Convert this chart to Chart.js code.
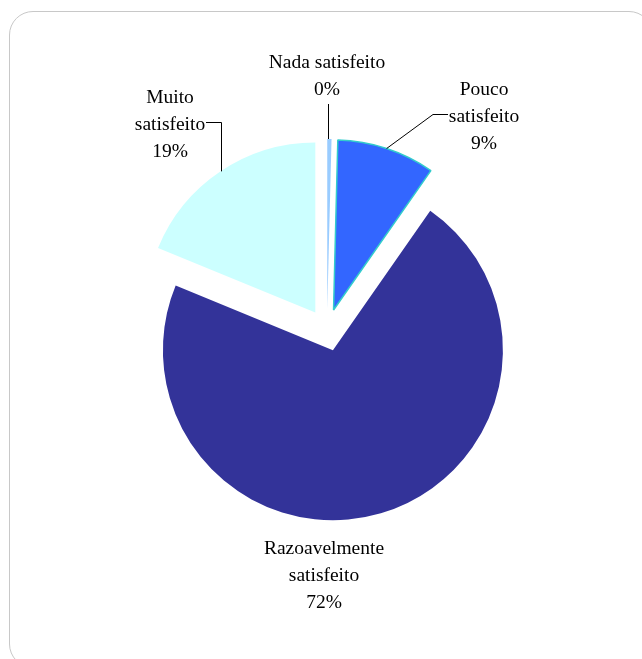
<!DOCTYPE html>
<html lang="pt">
<head>
<meta charset="UTF-8">
<title>Satisfação</title>
<style>
  body { margin: 0; background: #fff; overflow: hidden; }
  .frame { position: absolute; left: 9px; top: 11px; width: 642px; height: 655px;
           border: 1px solid #c8c8c8; border-radius: 24px; }
  canvas { position: absolute; left: 0; top: 0; }
</style>
</head>
<body>
<div class="frame"></div>
<canvas id="chart" width="642" height="659"></canvas>

<script src="https://cdn.jsdelivr.net/npm/chart.js"></script>
<script>
// dados
const categories = ['Nada satisfeito', 'Pouco satisfeito', 'Razoavelmente satisfeito', 'Muito satisfeito'];
const values = [0.4, 9.3, 71.5, 18.8];
const labelLines = [['Nada satisfeito'], ['Pouco', 'satisfeito'], ['Razoavelmente', 'satisfeito'], ['Muito', 'satisfeito']];
const colors = ['#99CCFF', '#3366FF', '#333399', '#CCFFFF'];

// layout
const EXPLODE = 21;
const FONT = '19.5px "Liberation Serif"';
const LINE_H = 27;
// centre x / first line y of each label
const labelAt = [[327, 63], [484, 90], [324, 549], [170, 98]];

// slices pushed out by a fixed distance, radius unchanged
const ArcEl = Chart.registry.getElement('arc');
const baseDraw = ArcEl.prototype.draw;
ArcEl.prototype.draw = function (ctx) {
  const d = this.$explode || 0;
  const mid = (this.startAngle + this.endAngle) / 2;
  ctx.save();
  ctx.translate(Math.cos(mid) * d, Math.sin(mid) * d);
  baseDraw.call(this, ctx);
  ctx.restore();
};

function edgePoint(arc) {
  const mid = (arc.startAngle + arc.endAngle) / 2;
  const r = arc.outerRadius + (arc.$explode || 0);
  return [arc.x + Math.cos(mid) * r, arc.y + Math.sin(mid) * r];
}

const labelsPlugin = {
  id: 'pieLabels',
  beforeDatasetsDraw(chart) {
    chart.getDatasetMeta(0).data.forEach(a => { a.$explode = EXPLODE; });
  },
  afterDatasetsDraw(chart) {
    const ctx = chart.ctx;
    const arcs = chart.getDatasetMeta(0).data;
    const total = values.reduce((a, b) => a + b, 0);
    ctx.save();
    ctx.font = FONT;
    ctx.fillStyle = '#000';
    ctx.textAlign = 'center';
    ctx.textBaseline = 'middle';
    values.forEach((v, i) => {
      const lines = labelLines[i].concat([Math.round(v / total * 100) + '%']);
      lines.forEach((t, j) => ctx.fillText(t, labelAt[i][0], labelAt[i][1] + j * LINE_H));
    });

    // linhas de chamada
    ctx.strokeStyle = '#000';
    ctx.lineWidth = 1;
    const p0 = edgePoint(arcs[0]);
    const p1 = edgePoint(arcs[1]);
    const p3 = edgePoint(arcs[3]);
    ctx.beginPath();
    ctx.moveTo(Math.round(p0[0]) - 0.5, p0[1]);
    ctx.lineTo(Math.round(p0[0]) - 0.5, 104);
    ctx.moveTo(p1[0], p1[1]);
    ctx.lineTo(433, 114.5);
    ctx.lineTo(448, 114.5);
    ctx.moveTo(Math.round(p3[0]) + 0.5, p3[1]);
    ctx.lineTo(Math.round(p3[0]) + 0.5, 122.5);
    ctx.lineTo(206, 122.5);
    ctx.stroke();
    ctx.restore();
  }
};

new Chart(document.getElementById('chart'), {
  type: 'pie',
  data: {
    labels: categories,
    datasets: [{
      data: values,
      backgroundColor: colors,
      borderColor: ['#99CCFF', '#33CCCC', '#333399', '#CCFFFF'],
      borderWidth: [0, 1.5, 0, 0]
    }]
  },
  options: {
    responsive: false,
    animation: false,
    radius: 170,
    layout: { padding: { left: 127, right: 115, top: 130, bottom: 129 } },
    plugins: { legend: { display: false }, tooltip: { enabled: false } }
  },
  plugins: [labelsPlugin]
});
</script>
</body>
</html>
